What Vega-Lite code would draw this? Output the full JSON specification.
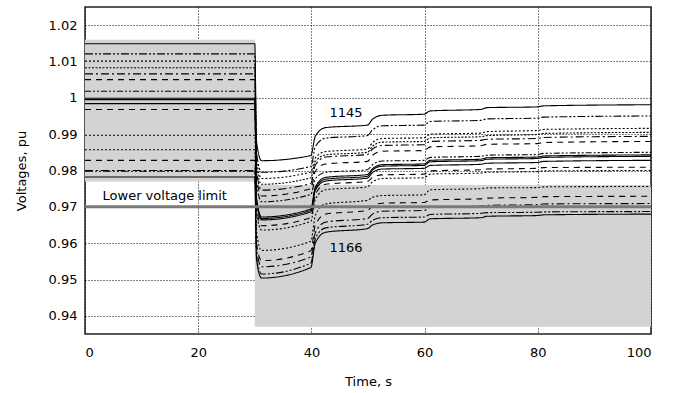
{
  "$schema": "https://vega.github.io/schema/vega-lite/v6.json",
  "autosize": "none",
  "width": 566,
  "height": 327,
  "padding": {"left": 85, "top": 7, "right": 27, "bottom": 59},
  "background": "white",
  "config": {
    "view": {"stroke": "#222", "strokeWidth": 1.5},
    "axis": {"labelFont": "DejaVu Sans", "labelFontSize": 13, "labelColor": "black", "titleFont": "DejaVu Sans", "titleFontSize": 13, "titleFontWeight": "normal", "titleColor": "black", "grid": true, "gridColor": "black", "gridOpacity": 1, "gridDash": [1, 2], "gridWidth": 1, "ticks": false, "domain": false, "zindex": 1},
    "text": {"font": "DejaVu Sans", "fontSize": 13, "color": "black"}
  },
  "datasets": {
    "boxes": [
      {"t": 0, "t2": 30, "v": 0.977, "v2": 1.016},
      {"t": 30, "t2": 100, "v": 0.937, "v2": 0.976}
    ],
    "traces": [
      {"t": 0, "L01": 1.0149, "L02": 1.0121, "L03": 1.0101, "L04": 1.0083, "L05": 1.0066, "L06": 1.0050, "L07": 1.0018, "L08": 0.9999, "L09": 0.9995, "L10": 0.9984, "L11": 0.9968, "L12": 0.9897, "L13": 0.9857, "L14": 0.9828, "L15": 0.9800, "L16": 0.9798, "L17": 0.9782},
      {"t": 30, "L01": 1.0149, "L02": 1.0121, "L03": 1.0101, "L04": 1.0083, "L05": 1.0066, "L06": 1.0050, "L07": 1.0018, "L08": 0.9999, "L09": 0.9995, "L10": 0.9984, "L11": 0.9968, "L12": 0.9897, "L13": 0.9857, "L14": 0.9828, "L15": 0.9800, "L16": 0.9798, "L17": 0.9782},
      {"t": 30.3, "L01": 0.9880, "L02": 0.9850, "L03": 0.9830, "L04": 0.9815, "L05": 0.9800, "L06": 0.9785, "L07": 0.9768, "L08": 0.9725, "L09": 0.9720, "L10": 0.9716, "L11": 0.9700, "L12": 0.9685, "L13": 0.9630, "L14": 0.9600, "L15": 0.9585, "L16": 0.9565, "L17": 0.9555},
      {"t": 31.2, "L01": 0.9827, "L02": 0.9795, "L03": 0.9778, "L04": 0.9762, "L05": 0.9746, "L06": 0.9730, "L07": 0.9714, "L08": 0.9672, "L09": 0.9668, "L10": 0.9664, "L11": 0.9648, "L12": 0.9636, "L13": 0.9580, "L14": 0.9552, "L15": 0.9535, "L16": 0.9515, "L17": 0.9504},
      {"t": 39.9, "L01": 0.9841, "L02": 0.9811, "L03": 0.9796, "L04": 0.9780, "L05": 0.9764, "L06": 0.9750, "L07": 0.9734, "L08": 0.9694, "L09": 0.9690, "L10": 0.9686, "L11": 0.9670, "L12": 0.9660, "L13": 0.9605, "L14": 0.9579, "L15": 0.9562, "L16": 0.9545, "L17": 0.9533},
      {"t": 40.7, "L01": 0.9895, "L02": 0.9866, "L03": 0.9835, "L04": 0.9824, "L05": 0.9815, "L06": 0.9798, "L07": 0.9777, "L08": 0.9755, "L09": 0.9750, "L10": 0.9746, "L11": 0.9734, "L12": 0.9721, "L13": 0.9677, "L14": 0.9650, "L15": 0.9629, "L16": 0.9613, "L17": 0.9601},
      {"t": 42.5, "L01": 0.9918, "L02": 0.9889, "L03": 0.9852, "L04": 0.9843, "L05": 0.9837, "L06": 0.9818, "L07": 0.9795, "L08": 0.9781, "L09": 0.9776, "L10": 0.9771, "L11": 0.9762, "L12": 0.9747, "L13": 0.9708, "L14": 0.9680, "L15": 0.9658, "L16": 0.9642, "L17": 0.9630},
      {"t": 49.9, "L01": 0.9925, "L02": 0.9896, "L03": 0.9859, "L04": 0.9850, "L05": 0.9844, "L06": 0.9825, "L07": 0.9802, "L08": 0.9789, "L09": 0.9784, "L10": 0.9779, "L11": 0.9770, "L12": 0.9755, "L13": 0.9718, "L14": 0.9690, "L15": 0.9668, "L16": 0.9652, "L17": 0.9640},
      {"t": 50.8, "L01": 0.9941, "L02": 0.9912, "L03": 0.9877, "L04": 0.9867, "L05": 0.9859, "L06": 0.9842, "L07": 0.9816, "L08": 0.9805, "L09": 0.9801, "L10": 0.9794, "L11": 0.9781, "L12": 0.9769, "L13": 0.9726, "L14": 0.9702, "L15": 0.9680, "L16": 0.9663, "L17": 0.9650},
      {"t": 52.5, "L01": 0.9952, "L02": 0.9923, "L03": 0.9888, "L04": 0.9878, "L05": 0.9869, "L06": 0.9853, "L07": 0.9826, "L08": 0.9816, "L09": 0.9812, "L10": 0.9804, "L11": 0.9788, "L12": 0.9778, "L13": 0.9731, "L14": 0.9710, "L15": 0.9688, "L16": 0.9670, "L17": 0.9656},
      {"t": 59.9, "L01": 0.9955, "L02": 0.9925, "L03": 0.9890, "L04": 0.9880, "L05": 0.9871, "L06": 0.9855, "L07": 0.9828, "L08": 0.9818, "L09": 0.9814, "L10": 0.9806, "L11": 0.9790, "L12": 0.9780, "L13": 0.9733, "L14": 0.9712, "L15": 0.9690, "L16": 0.9672, "L17": 0.9658},
      {"t": 61, "L01": 0.9964, "L02": 0.9935, "L03": 0.9900, "L04": 0.9890, "L05": 0.9880, "L06": 0.9865, "L07": 0.9836, "L08": 0.9828, "L09": 0.9824, "L10": 0.9814, "L11": 0.9799, "L12": 0.9790, "L13": 0.9747, "L14": 0.9719, "L15": 0.9699, "L16": 0.9679, "L17": 0.9667},
      {"t": 69.9, "L01": 0.9968, "L02": 0.9938, "L03": 0.9903, "L04": 0.9893, "L05": 0.9883, "L06": 0.9868, "L07": 0.9839, "L08": 0.9831, "L09": 0.9827, "L10": 0.9817, "L11": 0.9802, "L12": 0.9793, "L13": 0.9750, "L14": 0.9722, "L15": 0.9702, "L16": 0.9682, "L17": 0.9670},
      {"t": 71, "L01": 0.9973, "L02": 0.9942, "L03": 0.9907, "L04": 0.9896, "L05": 0.9886, "L06": 0.9872, "L07": 0.9842, "L08": 0.9835, "L09": 0.9831, "L10": 0.9820, "L11": 0.9804, "L12": 0.9795, "L13": 0.9752, "L14": 0.9724, "L15": 0.9704, "L16": 0.9684, "L17": 0.9674},
      {"t": 79.9, "L01": 0.9975, "L02": 0.9944, "L03": 0.9910, "L04": 0.9899, "L05": 0.9888, "L06": 0.9874, "L07": 0.9844, "L08": 0.9837, "L09": 0.9833, "L10": 0.9822, "L11": 0.9806, "L12": 0.9797, "L13": 0.9753, "L14": 0.9726, "L15": 0.9706, "L16": 0.9685, "L17": 0.9676},
      {"t": 81, "L01": 0.9978, "L02": 0.9947, "L03": 0.9913, "L04": 0.9902, "L05": 0.9891, "L06": 0.9877, "L07": 0.9847, "L08": 0.9840, "L09": 0.9836, "L10": 0.9825, "L11": 0.9808, "L12": 0.9799, "L13": 0.9755, "L14": 0.9728, "L15": 0.9708, "L16": 0.9686, "L17": 0.9678},
      {"t": 100, "L01": 0.9981, "L02": 0.9950, "L03": 0.9916, "L04": 0.9905, "L05": 0.9894, "L06": 0.9880, "L07": 0.9850, "L08": 0.9843, "L09": 0.9839, "L10": 0.9828, "L11": 0.9809, "L12": 0.9800, "L13": 0.9756, "L14": 0.9729, "L15": 0.9709, "L16": 0.9687, "L17": 0.9680}
    ],
    "limit": [{"t": 0, "t2": 100, "v": 0.97}],
    "labels": [
      {"t": 3.1, "v": 0.9731, "label": "Lower voltage limit"},
      {"t": 43.2, "v": 0.9957, "label": "1145"},
      {"t": 43.2, "v": 0.9587, "label": "1166"}
    ]
  },
  "encoding": {
    "x": {"field": "t", "type": "quantitative", "scale": {"domain": [0, 100], "nice": false}, "axis": {"title": "Time, s", "values": [0, 20, 40, 60, 80, 100], "labelPadding": 12, "titlePadding": 16}},
    "y": {"field": "v", "type": "quantitative", "scale": {"domain": [0.935, 1.025], "nice": false, "zero": false}, "axis": {"title": "Voltages, pu", "values": [0.94, 0.95, 0.96, 0.97, 0.98, 0.99, 1.0, 1.01, 1.02], "labelExpr": "format(datum.value, '.2~f')", "labelPadding": 8, "titlePadding": 20}}
  },
  "layer": [
    {
      "data": {"name": "boxes"},
      "mark": {"type": "rect", "color": "#d3d3d3"},
      "encoding": {"x2": {"field": "t2"}, "y2": {"field": "v2"}}
    },
    {
      "data": {"name": "traces"},
      "transform": [{"fold": ["L01", "L02", "L03", "L04", "L05", "L06", "L07", "L08", "L09", "L10", "L11", "L12", "L13", "L14", "L15", "L16", "L17"], "as": ["bus", "v"]}],
      "mark": {"type": "line", "color": "black", "strokeWidth": 1.1, "interpolate": "monotone"},
      "encoding": {
        "detail": {"field": "bus"},
        "strokeDash": {"field": "bus", "type": "nominal", "legend": null, "scale": {
          "domain": ["L01", "L02", "L03", "L04", "L05", "L06", "L07", "L08", "L09", "L10", "L11", "L12", "L13", "L14", "L15", "L16", "L17"],
          "range": [[1, 0], [8, 2, 2, 2, 2, 2], [2, 2], [2, 1.5], [8, 3, 2, 3], [6, 5], [6, 2, 2, 2, 2, 2], [1, 0], [1, 0], [1, 0], [6, 5], [2, 2], [2, 2], [6, 5], [8, 3, 2, 3], [8, 2, 2, 2, 2, 2], [1, 0]]
        }}
      }
    },
    {
      "data": {"name": "limit"},
      "mark": {"type": "rule", "color": "#7a7a7a", "strokeWidth": 3},
      "encoding": {"x2": {"field": "t2"}}
    },
    {
      "data": {"name": "labels"},
      "mark": {"type": "text", "align": "left", "baseline": "middle"},
      "encoding": {"text": {"field": "label"}}
    }
  ]
}
